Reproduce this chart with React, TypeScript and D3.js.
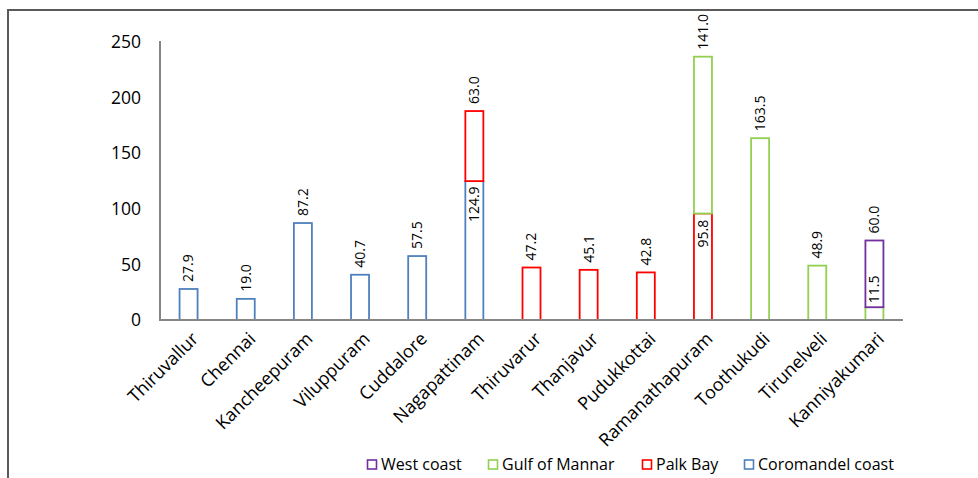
import React from "react";
import * as d3 from "d3";

// Districts along the coast, in order
const districts = [
  "Thiruvallur",
  "Chennai",
  "Kancheepuram",
  "Viluppuram",
  "Cuddalore",
  "Nagapattinam",
  "Thiruvarur",
  "Thanjavur",
  "Pudukkottai",
  "Ramanathapuram",
  "Toothukudi",
  "Tirunelveli",
  "Kanniyakumari",
];

// Coastline length per region (stacked bottom to top)
const coromandelCoast = [27.9, 19.0, 87.2, 40.7, 57.5, 124.9, 0, 0, 0, 0, 0, 0, 0];
const palkBay = [0, 0, 0, 0, 0, 63.0, 47.2, 45.1, 42.8, 95.8, 0, 0, 0];
const gulfOfMannar = [0, 0, 0, 0, 0, 0, 0, 0, 0, 141.0, 163.5, 48.9, 11.5];
const westCoast = [0, 0, 0, 0, 0, 0, 0, 0, 0, 0, 0, 0, 60.0];

const yTicks = [0, 50, 100, 150, 200, 250];

const seriesDefs = [
  { key: "Coromandel coast", values: coromandelCoast, color: "#4f81bd" },
  { key: "Palk Bay", values: palkBay, color: "#ff0000" },
  { key: "Gulf of Mannar", values: gulfOfMannar, color: "#92d050" },
  { key: "West coast", values: westCoast, color: "#7030a0" },
];

const W = 978;
const H = 478;
const FONT = "'Open Sans', 'Liberation Sans', sans-serif";

export default function App() {
  const x = d3
    .scaleBand<string>()
    .domain(districts)
    .range([160, 903])
    .paddingInner(0.685)
    .paddingOuter(0.3425);
  const y = d3.scaleLinear().domain([0, 250]).range([320, 42]);

  const rows = districts.map((d, i) => {
    const r: Record<string, number | string> = { district: d };
    seriesDefs.forEach((s) => (r[s.key] = s.values[i]));
    return r;
  });
  const stacked = d3.stack<any>().keys(seriesDefs.map((s) => s.key))(rows);

  const labelSize = 14;
  const charW = labelSize * 0.5;

  const bars: React.ReactNode[] = [];
  const labels: React.ReactNode[] = [];

  stacked.forEach((layer, si) => {
    const def = seriesDefs[si];
    layer.forEach((seg, i) => {
      const v = def.values[i];
      if (!v) return;
      const d = districts[i];
      const x0 = x(d)!;
      const bw = x.bandwidth();
      const yTop = y(seg[1]);
      const yBot = y(seg[0]);
      bars.push(
        <rect
          key={`b-${si}-${i}`}
          x={x0}
          y={yTop}
          width={bw}
          height={yBot - yTop}
          fill="white"
          stroke={def.color}
          strokeWidth={1.8}
        />
      );
      // Is there another segment stacked above this one?
      const hasAbove = stacked.slice(si + 1).some((l) => l[i][1] - l[i][0] > 0);
      const text = v.toFixed(1);
      const textLen = text.length * charW;
      const cx = x0 + bw / 2;
      let yStart: number; // text start (bottom end, text reads upwards)
      if (!hasAbove) {
        yStart = yTop - 7;
      } else if (yBot - yTop > textLen + 12) {
        yStart = yTop + 6 + textLen;
      } else {
        yStart = yTop - 4;
      }
      labels.push(
        <text
          key={`l-${si}-${i}`}
          transform={`translate(${cx},${yStart}) rotate(-90)`}
          dy="0.35em"
          textAnchor="start"
          fontSize={labelSize}
          fontFamily={FONT}
          fill="#000"
        >
          {text}
        </text>
      );
    });
  });

  const legendOrder = [...seriesDefs].reverse();
  const legendX = [367, 488, 642, 744];

  return (
    <svg
      width={W}
      height={H}
      style={{ position: "absolute", left: 0, top: 0, background: "white" }}
    >
      <rect x={8} y={10} width={1000} height={500} fill="white" stroke="#5a5a5a" strokeWidth={2} />

      {yTicks.map((t) => (
        <text
          key={`t-${t}`}
          x={141}
          y={y(t)}
          dy="0.35em"
          textAnchor="end"
          fontSize={17.5}
          fontFamily={FONT}
          fill="#000"
        >
          {t}
        </text>
      ))}

      {bars}

      <line x1={160} x2={160} y1={41} y2={320} stroke="#868686" strokeWidth={2} />
      <line x1={159} x2={903} y1={320} y2={320} stroke="#868686" strokeWidth={2} />

      {labels}

      {districts.map((d) => {
        const cx = x(d)! + x.bandwidth() / 2;
        return (
          <text
            key={`c-${d}`}
            transform={`translate(${cx + 2},${331}) rotate(-45)`}
            dy="0.7em"
            textAnchor="end"
            fontSize={18}
            fontFamily={FONT}
            fill="#000"
          >
            {d}
          </text>
        );
      })}

      {legendOrder.map((s, i) => (
        <g key={`lg-${s.key}`} transform={`translate(${legendX[i]},${460})`}>
          <rect x={0.5} y={0} width={9} height={9} fill="white" stroke={s.color} strokeWidth={1.6} />
          <text x={14} y={4.5} dy="0.35em" fontSize={16} fontFamily={FONT} fill="#000">
            {s.key}
          </text>
        </g>
      ))}
    </svg>
  );
}
